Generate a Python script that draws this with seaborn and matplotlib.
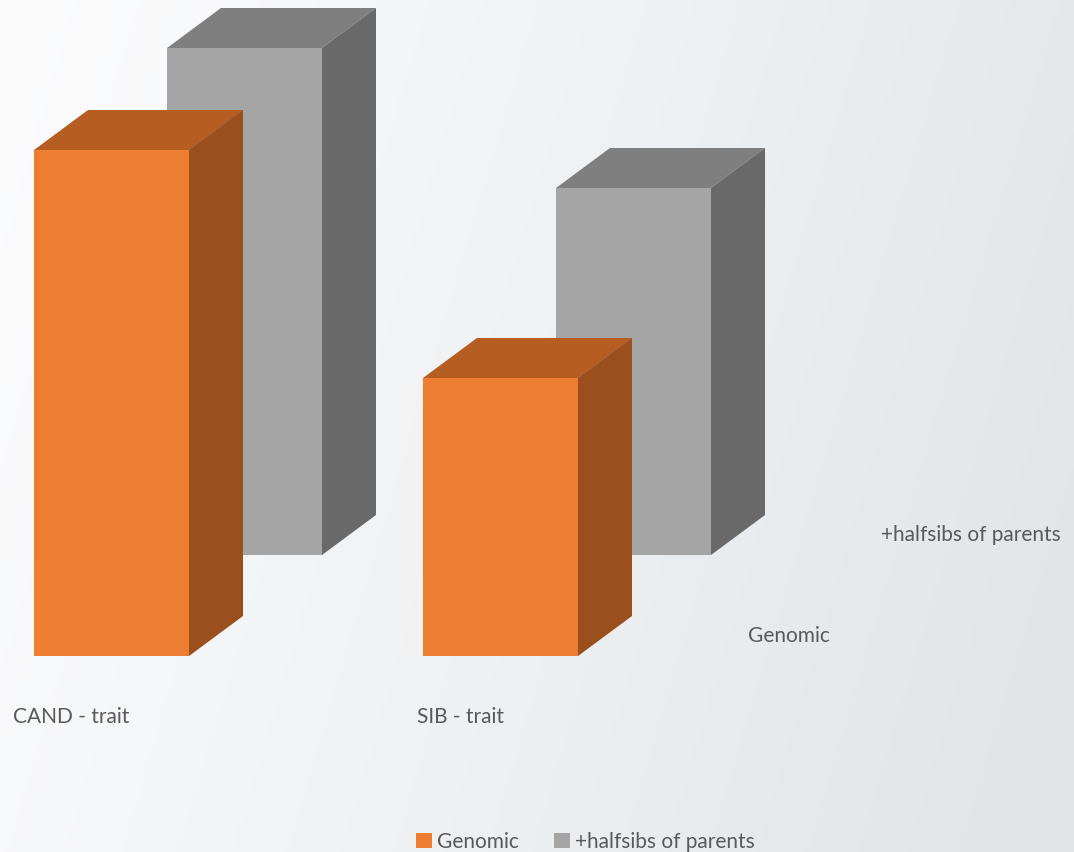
import numpy as np
import pandas as pd
import matplotlib
matplotlib.use("Agg")
import matplotlib.pyplot as plt
from matplotlib.patches import Polygon, Patch
import seaborn as sns

categories = ["CAND - trait", "SIB - trait"]
series = ["Genomic", "+halfsibs of parents"]
genomic = [0.506, 0.278]
halfsibs = [0.507, 0.367]

front_colors = {"Genomic": "#ED7D31", "+halfsibs of parents": "#A5A5A5"}
top_colors = {"Genomic": "#B65D21", "+halfsibs of parents": "#7F7F7F"}
side_colors = {"Genomic": "#9A4F1D", "+halfsibs of parents": "#696969"}

sns.set_theme(style="white")
plt.rcParams['font.family'] = ['Lato', 'DejaVu Sans']
TXT = "#595959"
FS = 15

W, H = 1074, 852
fig = plt.figure(figsize=(W / 100, H / 100), dpi=100)

# background gradient
bg = fig.add_axes([0, 0, 1, 1], zorder=0)
gx, gy = np.meshgrid(np.linspace(0, 1, 200), np.linspace(0, 1, 200))
t = np.clip(0.85 * gx + 0.2 * gy, 0, 1) ** 1.1
c0 = np.array([0xfc, 0xfc, 0xfd]) / 255
c1 = np.array([0xe1, 0xe5, 0xe8]) / 255
img = c0[None, None, :] * (1 - t[..., None]) + c1[None, None, :] * t[..., None]
bg.imshow(img, aspect='auto', extent=[0, 1, 0, 1], origin='upper')
bg.set_axis_off()

ax = fig.add_axes([0, 0, 1, 1], zorder=1)
ax.patch.set_alpha(0)

# pixel -> data mapping
SX = 389.0   # px per category
SY = 1000.0  # px per value unit
X0 = 111.5   # px of first category centre
Y0 = 656.0   # px (from top) of front baseline

width = 155 / SX
ddx, ddy = 54 / SX, 40 / SY          # bar depth
bdx, bdy = 133 / SX, 101 / SY        # back-row offset

df = pd.DataFrame({"category": categories, "Genomic": genomic,
                   "+halfsibs of parents": halfsibs})
xpos = np.arange(len(categories))

def draw_row(values, name, offx, offy, z):
    bars = ax.bar(xpos + offx, values, width=width, bottom=offy,
                  color=front_colors[name], zorder=z, linewidth=0)
    for b in bars:
        x0, y0 = b.get_x(), b.get_y()
        w, h = b.get_width(), b.get_height()
        top = Polygon([(x0, y0 + h), (x0 + ddx, y0 + h + ddy),
                       (x0 + w + ddx, y0 + h + ddy), (x0 + w, y0 + h)],
                      closed=True, facecolor=top_colors[name], edgecolor='none', zorder=z)
        side = Polygon([(x0 + w, y0), (x0 + w, y0 + h),
                        (x0 + w + ddx, y0 + h + ddy), (x0 + w + ddx, y0 + ddy)],
                       closed=True, facecolor=side_colors[name], edgecolor='none', zorder=z)
        ax.add_patch(top)
        ax.add_patch(side)

draw_row(df["+halfsibs of parents"].values, "+halfsibs of parents", bdx, bdy, 2)
draw_row(df["Genomic"].values, "Genomic", 0, 0, 3)

ax.set_xlim(-X0 / SX, (W - X0) / SX)
ax.set_ylim((Y0 - H) / SY, Y0 / SY)
ax.set_axis_off()

# category labels
for i, c in enumerate(categories):
    ax.text(i - 40 / SX, -61 / SY, c, ha='center', va='center',
            fontsize=FS, color=TXT, zorder=5)

# series (depth) labels
last = len(categories) - 1
ax.text(last + 247.5 / SX, 20 / SY, series[0], ha='left', va='center',
        fontsize=FS, color=TXT, zorder=5)
ax.text(last + 247.5 / SX + bdx, 20 / SY + bdy, series[1], ha='left', va='center',
        fontsize=FS, color=TXT, zorder=5)

handles = [Patch(facecolor=front_colors[s], edgecolor='none', label=s) for s in series]
leg = fig.legend(handles=handles, loc='lower center', bbox_to_anchor=(0.545, -0.022),
                 ncol=2, frameon=False, fontsize=FS, handlelength=0.75,
                 handleheight=0.75, handletextpad=0.25, columnspacing=1.7)
for txt in leg.get_texts():
    txt.set_color(TXT)

fig.savefig("out.png", dpi=100)
